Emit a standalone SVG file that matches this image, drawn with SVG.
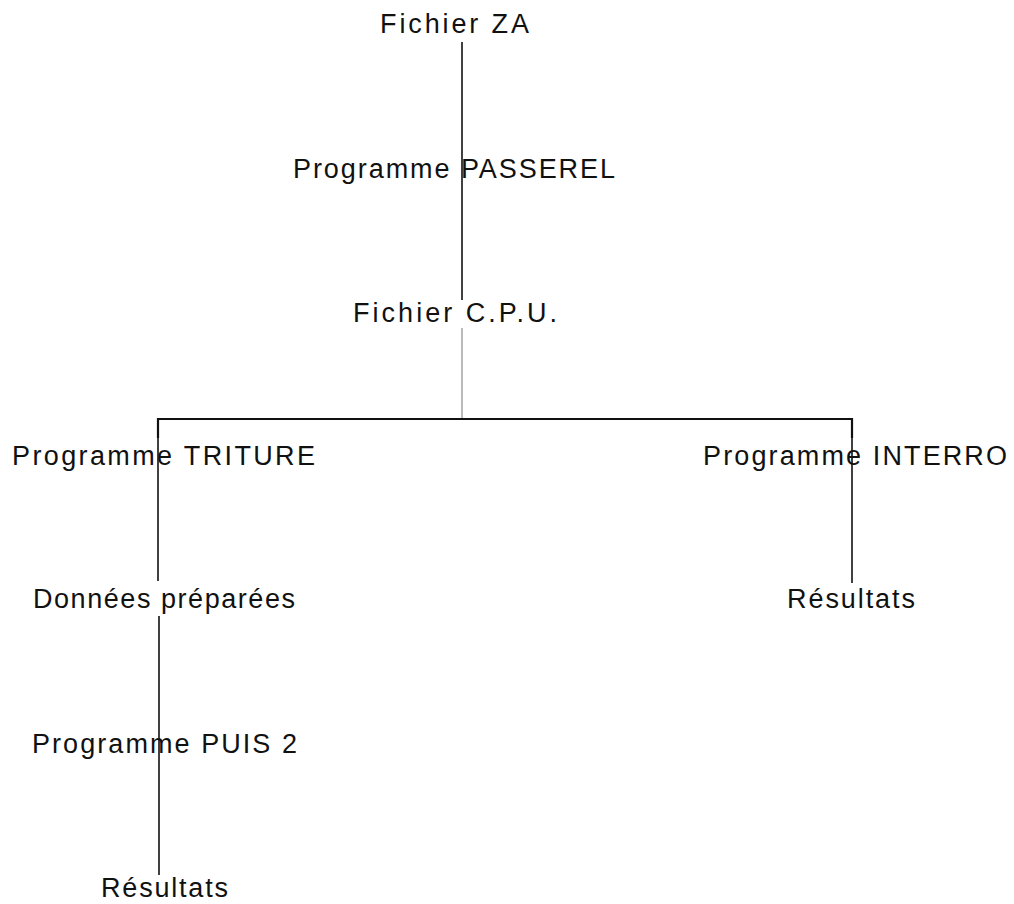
<svg xmlns="http://www.w3.org/2000/svg" width="1014" height="904" viewBox="0 0 1014 904">
<style>
  text { font-family: "Liberation Sans", Arial, sans-serif; font-size: 27px; fill: #111; }
  .ln { stroke: #111; stroke-width: 1.6; fill: none; }
  .thin { stroke: #777; stroke-width: 1; fill: none; }
  .bar { stroke: #111; stroke-width: 2.2; fill: none; }
</style>
<rect width="1014" height="904" fill="#fff"/>
<g id="connectors">
  <line class="ln" x1="462" y1="42" x2="462" y2="300"/>
  <line class="thin" x1="462" y1="328" x2="462" y2="418"/>
  <polyline class="bar" points="158,438 158,419 852,419 852,438"/>
  <line class="ln" x1="158" y1="430" x2="158" y2="581"/>
  <line class="ln" x1="159" y1="616" x2="159" y2="875"/>
  <line class="ln" x1="852" y1="430" x2="852" y2="583"/>
</g>
<g id="fichier-za"><text x="380" y="33" textLength="149" lengthAdjust="spacing">Fichier ZA</text></g>
<g id="programme-passerel"><text x="293" y="178" textLength="322" lengthAdjust="spacing">Programme PASSEREL</text></g>
<g id="fichier-cpu"><text x="353" y="322" textLength="204" lengthAdjust="spacing">Fichier C.P.U.</text></g>
<g id="programme-triture"><text x="12" y="465" textLength="303" lengthAdjust="spacing">Programme TRITURE</text></g>
<g id="programme-interro"><text x="703" y="465" textLength="304" lengthAdjust="spacing">Programme INTERRO</text></g>
<g id="donnees-preparees"><text x="33" y="608" textLength="262" lengthAdjust="spacing">Données préparées</text></g>
<g id="resultats-interro"><text x="787" y="608" textLength="128" lengthAdjust="spacing">Résultats</text></g>
<g id="programme-puis2"><text x="32" y="753" textLength="265" lengthAdjust="spacing">Programme PUIS 2</text></g>
<g id="resultats-puis2"><text x="101" y="897" textLength="127" lengthAdjust="spacing">Résultats</text></g>
</svg>
